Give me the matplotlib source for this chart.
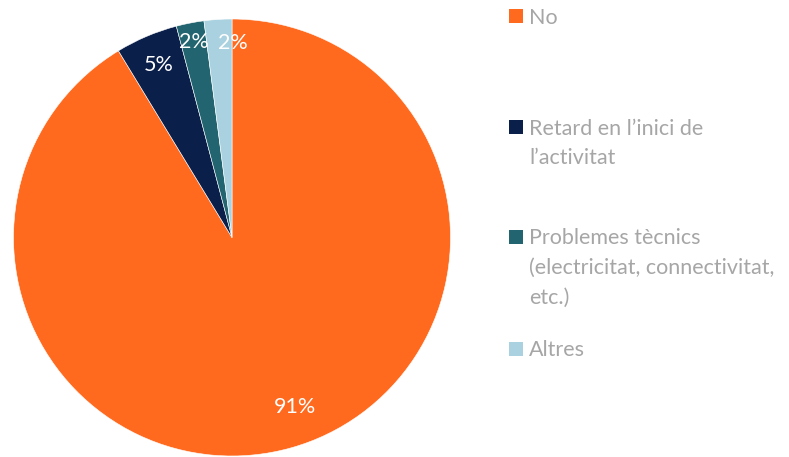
import numpy as np
import matplotlib
matplotlib.use("Agg")
import matplotlib.pyplot as plt
from matplotlib.patches import Rectangle

categories = ["No", "Retard en l’inici de\nl’activitat",
              "Problemes tècnics\n(electricitat, connectivitat,\netc.)", "Altres"]
values = [91.3, 4.6, 2.05, 2.05]
colors = ["#FF6A1F", "#0B1F4B", "#22646F", "#A9D1DF"]

plt.rcParams['font.family'] = ['Lato', 'DejaVu Sans']

W, H = 789, 457
fig = plt.figure(figsize=(W / 100, H / 100), dpi=100)
cx, cy, R = 232, 237.5, 218.5
ax = fig.add_axes([(cx - R) / W, (H - cy - R) / H, 2 * R / W, 2 * R / H])

wedges = ax.pie(values, colors=colors, startangle=90, counterclock=False,
                radius=1, wedgeprops=dict(linewidth=0.4, edgecolor="white"))[0]
ax.set_xlim(-1, 1)
ax.set_ylim(-1, 1)
ax.set_aspect("equal")
ax.axis("off")

# label placement (distance fraction, angle override in degrees or None)
label_dist = [0.83, 0.86, 0.91, 0.89]
label_angle = [-69.6, None, None, 89.7]
total = sum(values)
for w, v, d, a in zip(wedges, values, label_dist, label_angle):
    ang = (w.theta1 + w.theta2) / 2 if a is None else a
    x, y = d * np.cos(np.radians(ang)), d * np.sin(np.radians(ang))
    ax.text(x, y, f"{round(v / total * 100):.0f}%", ha="center", va="center",
            color="white", fontsize=15.5)

# legend
leg_x = 509
sq = 14
leg_y = [16, 127, 236.5, 348.5]
line_h = 29.5
for cat, col, yc in zip(categories, colors, leg_y):
    fig.patches.append(Rectangle(((leg_x) / W, (H - yc - sq / 2) / H), sq / W, sq / H,
                                 transform=fig.transFigure, facecolor=col, edgecolor="none"))
    for i, line in enumerate(cat.split("\n")):
        fig.text(529 / W, (H - yc - i * line_h) / H, line, ha="left", va="center_baseline",
                 color="#A6A6A6", fontsize=15.5)

fig.savefig("out.png", dpi=100)
